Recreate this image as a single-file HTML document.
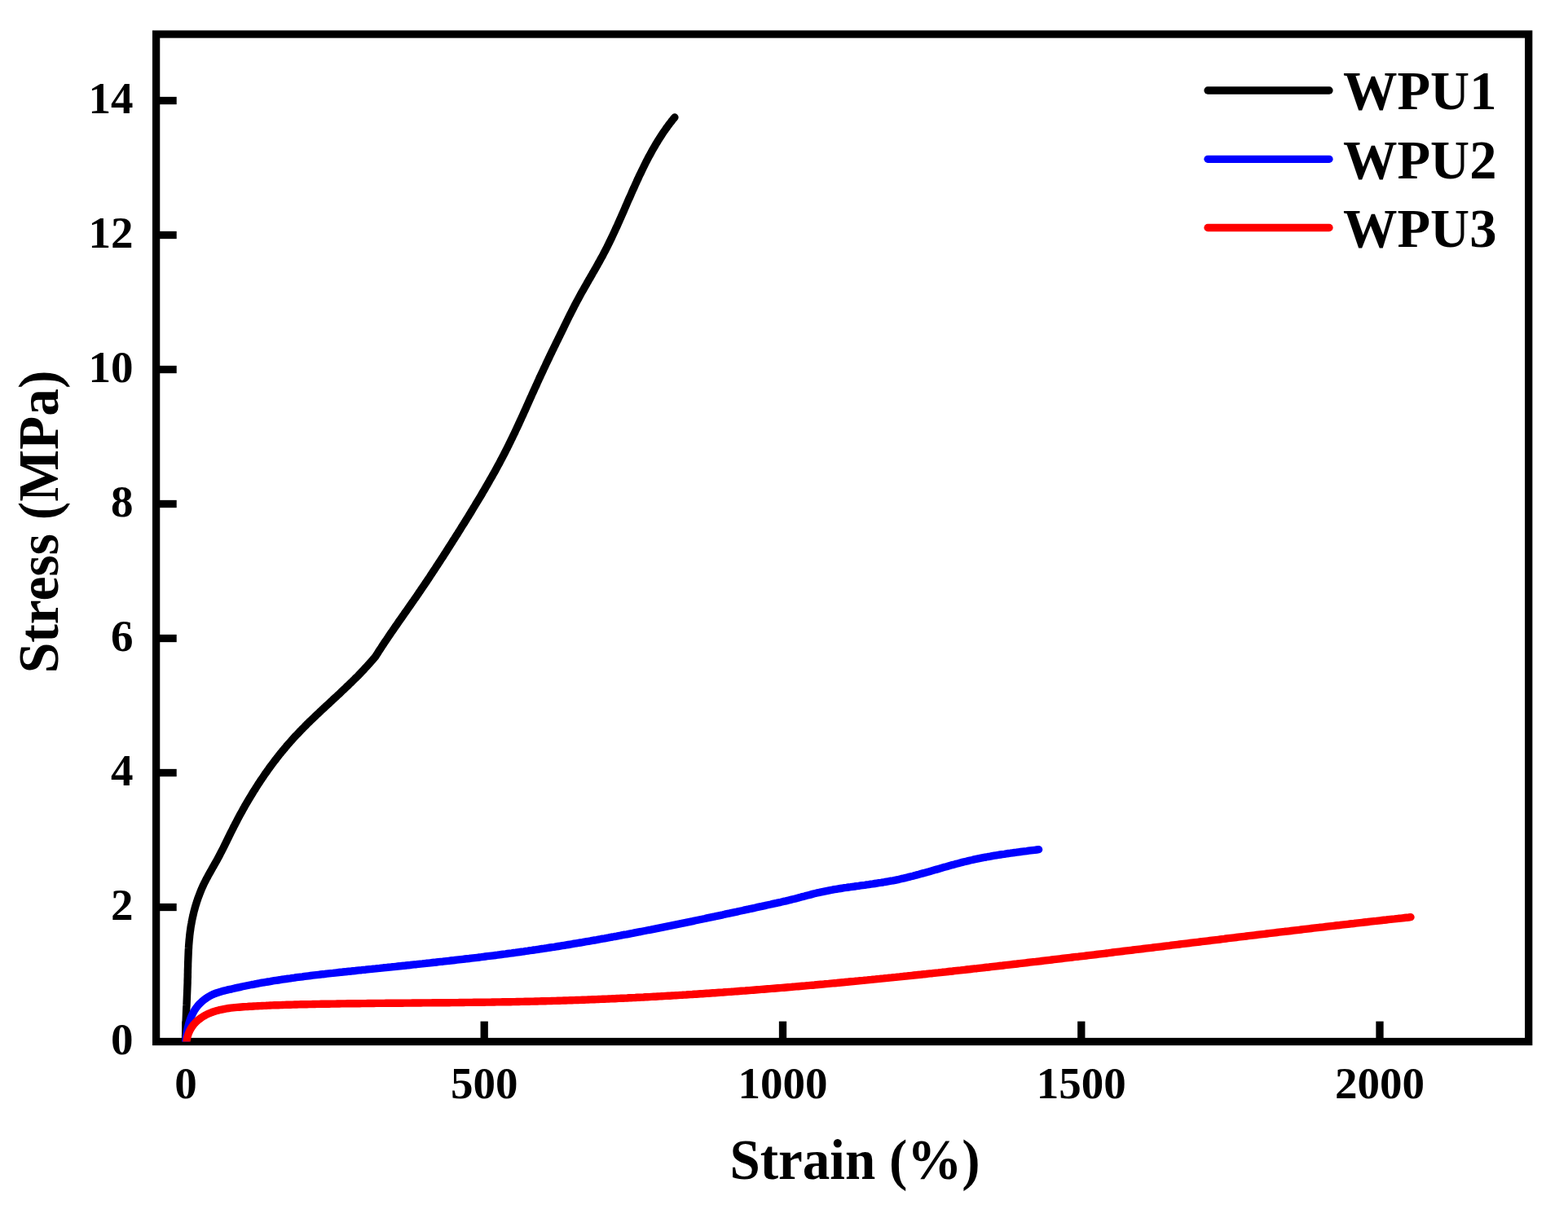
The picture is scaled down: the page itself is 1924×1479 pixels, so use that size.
<!DOCTYPE html>
<html><head><meta charset="utf-8"><style>
html,body{margin:0;padding:0;background:#fff;}
svg{display:block;}
text{font-family:"Liberation Serif","Times New Roman",serif;font-weight:bold;fill:#000;}
</style></head><body>
<svg width="1924" height="1479" viewBox="0 0 1924 1479">
<rect width="1924" height="1479" fill="#fff"/>
<defs><clipPath id="pa"><rect x="191.6" y="42.0" width="1684.1" height="1236.5"/></clipPath></defs>
<g stroke="#000" stroke-width="9.3" fill="none">
<rect x="191.6" y="42.0" width="1684.1" height="1236.5"/>
<line x1="228.0" y1="1278.5" x2="228.0" y2="1253.6"/><line x1="594.2" y1="1278.5" x2="594.2" y2="1253.6"/><line x1="960.5" y1="1278.5" x2="960.5" y2="1253.6"/><line x1="1326.8" y1="1278.5" x2="1326.8" y2="1253.6"/><line x1="1693.0" y1="1278.5" x2="1693.0" y2="1253.6"/><line x1="191.6" y1="1113.5" x2="216.7" y2="1113.5"/><line x1="191.6" y1="948.5" x2="216.7" y2="948.5"/><line x1="191.6" y1="783.5" x2="216.7" y2="783.5"/><line x1="191.6" y1="618.5" x2="216.7" y2="618.5"/><line x1="191.6" y1="453.5" x2="216.7" y2="453.5"/><line x1="191.6" y1="288.5" x2="216.7" y2="288.5"/><line x1="191.6" y1="123.5" x2="216.7" y2="123.5"/>
</g>
<g clip-path="url(#pa)" fill="none" stroke-width="9.4" stroke-linecap="round" stroke-linejoin="round">
<path stroke="#000000" d="M227.5 1279.0 L227.5 1276.5 L227.6 1274.0 L227.6 1271.4 L227.7 1268.9 L227.7 1266.4 L227.8 1263.9 L227.9 1261.4 L227.9 1258.9 L228.0 1256.4 L228.1 1253.9 L228.2 1251.4 L228.3 1248.9 L228.4 1246.4 L228.5 1243.8 L228.6 1241.3 L228.7 1238.8 L228.8 1236.3 L229.0 1233.8 L229.1 1231.3 L229.2 1228.8 L229.3 1226.3 L229.4 1223.8 L229.5 1221.3 L229.6 1218.8 L229.7 1216.3 L229.8 1213.8 L229.9 1211.3 L230.0 1208.8 L230.1 1206.3 L230.1 1203.8 L230.2 1201.2 L230.3 1198.7 L230.3 1196.2 L230.4 1193.7 L230.4 1191.2 L230.5 1188.6 L230.6 1186.1 L230.6 1183.6 L230.7 1181.1 L230.8 1178.6 L230.9 1176.1 L231.0 1173.5 L231.1 1171.0 L231.2 1168.5 L231.3 1166.0 L231.5 1163.5 L231.6 1161.0 L231.8 1158.5 L232.0 1156.0 L232.2 1153.5 L232.5 1151.0 L232.7 1148.5 L233.0 1146.0 L233.3 1143.5 L233.7 1141.0 L234.0 1138.5 L234.4 1136.0 L234.9 1133.6 L235.3 1131.1 L235.8 1128.6 L236.3 1126.2 L236.9 1123.7 L237.4 1121.3 L238.0 1118.8 L238.7 1116.4 L239.3 1114.0 L240.0 1111.6 L240.8 1109.2 L241.5 1106.8 L242.3 1104.4 L243.1 1102.0 L244.0 1099.7 L244.9 1097.3 L245.8 1095.0 L246.7 1092.7 L247.7 1090.4 L248.7 1088.1 L249.8 1085.8 L250.8 1083.6 L252.0 1081.3 L253.1 1079.1 L254.3 1076.9 L255.5 1074.6 L256.7 1072.4 L257.9 1070.3 L259.2 1068.1 L260.4 1065.9 L261.7 1063.7 L262.9 1061.5 L264.1 1059.4 L265.4 1057.2 L266.6 1055.0 L267.8 1052.8 L269.0 1050.5 L270.1 1048.3 L271.3 1046.1 L272.4 1043.9 L273.6 1041.6 L274.7 1039.4 L275.8 1037.1 L276.9 1034.9 L278.0 1032.6 L279.1 1030.4 L280.2 1028.1 L281.3 1025.9 L282.4 1023.6 L283.5 1021.4 L284.7 1019.1 L285.8 1016.9 L286.9 1014.6 L288.1 1012.4 L289.2 1010.2 L290.4 1008.0 L291.5 1005.7 L292.7 1003.5 L293.9 1001.3 L295.1 999.1 L296.3 996.9 L297.5 994.7 L298.7 992.5 L300.0 990.3 L301.2 988.1 L302.5 985.9 L303.7 983.8 L305.0 981.6 L306.3 979.5 L307.6 977.3 L308.9 975.2 L310.2 973.0 L311.5 970.9 L312.9 968.8 L314.2 966.6 L315.6 964.5 L316.9 962.4 L318.3 960.3 L319.7 958.2 L321.1 956.1 L322.5 954.1 L323.9 952.0 L325.3 949.9 L326.8 947.9 L328.2 945.8 L329.7 943.8 L331.1 941.8 L332.6 939.7 L334.1 937.7 L335.6 935.7 L337.1 933.7 L338.7 931.7 L340.2 929.7 L341.8 927.8 L343.3 925.8 L344.9 923.9 L346.5 921.9 L348.1 920.0 L349.7 918.1 L351.3 916.1 L352.9 914.2 L354.6 912.3 L356.2 910.5 L357.9 908.6 L359.6 906.7 L361.2 904.9 L362.9 903.0 L364.7 901.2 L366.4 899.4 L368.1 897.6 L369.9 895.8 L371.6 894.0 L373.4 892.2 L375.2 890.4 L376.9 888.6 L378.7 886.9 L380.5 885.1 L382.3 883.4 L384.2 881.6 L386.0 879.9 L387.8 878.1 L389.6 876.4 L391.5 874.7 L393.3 873.0 L395.1 871.2 L397.0 869.5 L398.8 867.8 L400.7 866.1 L402.5 864.4 L404.4 862.7 L406.2 860.9 L408.1 859.2 L409.9 857.5 L411.8 855.8 L413.6 854.1 L415.4 852.4 L417.3 850.7 L419.1 848.9 L420.9 847.2 L422.8 845.5 L424.6 843.7 L426.4 842.0 L428.2 840.3 L430.0 838.5 L431.8 836.8 L433.6 835.0 L435.4 833.2 L437.2 831.5 L439.0 829.7 L440.7 827.9 L442.5 826.1 L444.2 824.3 L445.9 822.5 L447.6 820.6 L449.3 818.8 L451.0 816.9 L452.7 815.1 L454.4 813.2 L456.0 811.3 L457.7 809.4 L459.3 807.5 L460.9 805.6 L462.2 803.5 L463.6 801.4 L464.9 799.2 L466.3 797.1 L467.7 795.0 L469.0 792.9 L470.4 790.8 L471.8 788.7 L473.2 786.6 L474.6 784.6 L476.0 782.5 L477.4 780.4 L478.8 778.3 L480.2 776.2 L481.7 774.2 L483.1 772.1 L484.5 770.0 L485.9 768.0 L487.4 765.9 L488.8 763.8 L490.2 761.8 L491.7 759.7 L493.1 757.7 L494.6 755.6 L496.0 753.5 L497.4 751.5 L498.9 749.4 L500.3 747.4 L501.8 745.3 L503.2 743.3 L504.6 741.2 L506.1 739.1 L507.5 737.1 L508.9 735.0 L510.4 732.9 L511.8 730.9 L513.2 728.8 L514.6 726.7 L516.0 724.7 L517.4 722.6 L518.9 720.5 L520.3 718.4 L521.7 716.3 L523.1 714.3 L524.5 712.2 L525.9 710.1 L527.3 708.0 L528.6 705.9 L530.0 703.8 L531.4 701.7 L532.8 699.6 L534.2 697.5 L535.5 695.4 L536.9 693.3 L538.3 691.2 L539.7 689.1 L541.0 687.0 L542.4 684.9 L543.8 682.8 L545.1 680.7 L546.5 678.6 L547.8 676.5 L549.2 674.3 L550.5 672.2 L551.9 670.1 L553.2 668.0 L554.6 665.9 L555.9 663.7 L557.3 661.6 L558.6 659.5 L559.9 657.4 L561.3 655.3 L562.6 653.1 L564.0 651.0 L565.3 648.9 L566.6 646.7 L567.9 644.6 L569.3 642.5 L570.6 640.3 L571.9 638.2 L573.2 636.1 L574.6 633.9 L575.9 631.8 L577.2 629.7 L578.5 627.5 L579.8 625.4 L581.1 623.2 L582.4 621.1 L583.7 618.9 L585.0 616.8 L586.3 614.6 L587.6 612.5 L588.9 610.3 L590.2 608.2 L591.5 606.0 L592.7 603.8 L594.0 601.7 L595.3 599.5 L596.5 597.3 L597.8 595.2 L599.0 593.0 L600.3 590.8 L601.5 588.6 L602.8 586.4 L604.0 584.3 L605.2 582.1 L606.5 579.9 L607.7 577.7 L608.9 575.5 L610.1 573.3 L611.3 571.1 L612.5 568.9 L613.7 566.6 L614.8 564.4 L616.0 562.2 L617.2 560.0 L618.3 557.8 L619.5 555.5 L620.6 553.3 L621.8 551.1 L622.9 548.8 L624.0 546.6 L625.1 544.3 L626.2 542.1 L627.3 539.8 L628.4 537.6 L629.5 535.3 L630.6 533.0 L631.7 530.8 L632.7 528.5 L633.8 526.2 L634.9 523.9 L635.9 521.7 L637.0 519.4 L638.0 517.1 L639.1 514.8 L640.1 512.5 L641.2 510.2 L642.2 508.0 L643.2 505.7 L644.3 503.4 L645.3 501.1 L646.3 498.8 L647.4 496.5 L648.4 494.2 L649.4 491.9 L650.4 489.6 L651.5 487.3 L652.5 485.0 L653.5 482.7 L654.6 480.4 L655.6 478.1 L656.6 475.9 L657.7 473.6 L658.7 471.3 L659.7 469.0 L660.8 466.7 L661.8 464.4 L662.9 462.1 L663.9 459.8 L665.0 457.6 L666.1 455.3 L667.1 453.0 L668.2 450.7 L669.3 448.5 L670.3 446.2 L671.4 443.9 L672.5 441.7 L673.6 439.4 L674.6 437.1 L675.7 434.9 L676.8 432.6 L677.9 430.3 L679.0 428.1 L680.1 425.8 L681.2 423.6 L682.3 421.3 L683.4 419.0 L684.5 416.8 L685.6 414.5 L686.7 412.3 L687.8 410.0 L688.9 407.8 L690.0 405.5 L691.1 403.3 L692.2 401.0 L693.3 398.7 L694.4 396.5 L695.5 394.2 L696.6 392.0 L697.7 389.7 L698.8 387.5 L700.0 385.3 L701.1 383.0 L702.2 380.8 L703.4 378.5 L704.5 376.3 L705.7 374.1 L706.8 371.9 L708.0 369.6 L709.2 367.4 L710.4 365.2 L711.6 363.0 L712.8 360.8 L714.0 358.6 L715.3 356.4 L716.5 354.2 L717.7 352.1 L719.0 349.9 L720.2 347.7 L721.5 345.5 L722.7 343.3 L724.0 341.2 L725.2 339.0 L726.5 336.8 L727.7 334.6 L729.0 332.5 L730.2 330.3 L731.5 328.1 L732.7 325.9 L733.9 323.7 L735.2 321.5 L736.4 319.3 L737.6 317.1 L738.8 314.9 L740.0 312.7 L741.1 310.5 L742.3 308.3 L743.4 306.1 L744.6 303.8 L745.7 301.6 L746.8 299.4 L747.9 297.1 L749.0 294.9 L750.1 292.6 L751.2 290.3 L752.2 288.1 L753.3 285.8 L754.4 283.5 L755.4 281.2 L756.4 279.0 L757.5 276.7 L758.5 274.4 L759.5 272.1 L760.5 269.8 L761.6 267.5 L762.6 265.2 L763.6 262.9 L764.6 260.6 L765.6 258.3 L766.6 256.0 L767.6 253.6 L768.6 251.3 L769.6 249.0 L770.6 246.7 L771.6 244.4 L772.7 242.1 L773.7 239.8 L774.7 237.5 L775.7 235.2 L776.7 232.9 L777.8 230.6 L778.8 228.3 L779.8 226.0 L780.9 223.7 L781.9 221.4 L783.0 219.1 L784.0 216.8 L785.1 214.5 L786.2 212.3 L787.3 210.0 L788.4 207.7 L789.5 205.5 L790.6 203.2 L791.7 201.0 L792.8 198.7 L794.0 196.5 L795.1 194.3 L796.3 192.1 L797.5 189.9 L798.7 187.7 L799.9 185.5 L801.1 183.3 L802.4 181.1 L803.7 179.0 L804.9 176.8 L806.2 174.7 L807.5 172.5 L808.9 170.4 L810.2 168.3 L811.6 166.2 L812.9 164.1 L814.3 162.0 L815.8 160.0 L817.2 157.9 L818.7 155.9 L820.1 153.9 L821.6 151.9 L823.2 149.9 L824.7 147.9 L826.3 145.9 L827.9 144.0"/>
<path stroke="#0000ff" d="M227.7 1279.0 L228.0 1276.6 L228.3 1274.2 L228.6 1271.7 L229.0 1269.2 L229.4 1266.7 L229.9 1264.2 L230.4 1261.7 L231.0 1259.3 L231.6 1256.8 L232.4 1254.3 L233.2 1251.9 L234.0 1249.5 L235.0 1247.2 L236.1 1244.9 L237.2 1242.7 L238.4 1240.5 L239.8 1238.4 L241.2 1236.4 L242.8 1234.4 L244.4 1232.5 L246.2 1230.8 L248.0 1229.1 L249.9 1227.5 L251.9 1226.0 L254.0 1224.6 L256.1 1223.3 L258.3 1222.0 L260.5 1220.9 L262.8 1219.9 L265.1 1219.0 L267.5 1218.2 L269.9 1217.5 L272.3 1216.8 L274.7 1216.1 L277.2 1215.5 L279.6 1214.9 L282.1 1214.3 L284.6 1213.8 L287.0 1213.2 L289.5 1212.6 L291.9 1212.1 L294.4 1211.6 L296.8 1211.0 L299.3 1210.5 L301.8 1210.0 L304.2 1209.5 L306.7 1209.0 L309.2 1208.5 L311.6 1208.1 L314.1 1207.6 L316.6 1207.1 L319.0 1206.7 L321.5 1206.2 L324.0 1205.8 L326.5 1205.4 L328.9 1205.0 L331.4 1204.6 L333.9 1204.1 L336.4 1203.7 L338.8 1203.3 L341.3 1203.0 L343.8 1202.6 L346.3 1202.2 L348.7 1201.8 L351.2 1201.5 L353.7 1201.1 L356.2 1200.8 L358.7 1200.4 L361.2 1200.1 L363.6 1199.7 L366.1 1199.4 L368.6 1199.1 L371.1 1198.8 L373.6 1198.4 L376.1 1198.1 L378.6 1197.8 L381.1 1197.5 L383.5 1197.2 L386.0 1196.9 L388.5 1196.6 L391.0 1196.3 L393.5 1196.0 L396.0 1195.7 L398.5 1195.5 L401.0 1195.2 L403.5 1194.9 L406.0 1194.6 L408.5 1194.4 L411.0 1194.1 L413.4 1193.8 L415.9 1193.5 L418.4 1193.3 L420.9 1193.0 L423.4 1192.8 L425.9 1192.5 L428.4 1192.2 L430.9 1192.0 L433.4 1191.7 L435.9 1191.5 L438.4 1191.2 L440.9 1190.9 L443.4 1190.7 L445.9 1190.4 L448.4 1190.2 L450.9 1189.9 L453.4 1189.6 L455.9 1189.4 L458.4 1189.1 L460.9 1188.9 L463.3 1188.6 L465.8 1188.4 L468.3 1188.1 L470.8 1187.8 L473.3 1187.6 L475.8 1187.3 L478.3 1187.1 L480.8 1186.8 L483.3 1186.6 L485.8 1186.3 L488.3 1186.0 L490.8 1185.8 L493.3 1185.5 L495.8 1185.3 L498.3 1185.0 L500.8 1184.7 L503.3 1184.5 L505.8 1184.2 L508.3 1183.9 L510.8 1183.7 L513.3 1183.4 L515.8 1183.1 L518.2 1182.9 L520.7 1182.6 L523.2 1182.3 L525.7 1182.1 L528.2 1181.8 L530.7 1181.5 L533.2 1181.3 L535.7 1181.0 L538.2 1180.7 L540.7 1180.4 L543.2 1180.2 L545.7 1179.9 L548.2 1179.6 L550.7 1179.3 L553.2 1179.0 L555.7 1178.8 L558.1 1178.5 L560.6 1178.2 L563.1 1177.9 L565.6 1177.6 L568.1 1177.3 L570.6 1177.0 L573.1 1176.7 L575.6 1176.5 L578.1 1176.2 L580.6 1175.9 L583.1 1175.6 L585.6 1175.3 L588.0 1175.0 L590.5 1174.7 L593.0 1174.3 L595.5 1174.0 L598.0 1173.7 L600.5 1173.4 L603.0 1173.1 L605.5 1172.8 L608.0 1172.5 L610.4 1172.2 L612.9 1171.8 L615.4 1171.5 L617.9 1171.2 L620.4 1170.9 L622.9 1170.5 L625.4 1170.2 L627.9 1169.9 L630.3 1169.5 L632.8 1169.2 L635.3 1168.8 L637.8 1168.5 L640.3 1168.1 L642.8 1167.8 L645.2 1167.4 L647.7 1167.1 L650.2 1166.7 L652.7 1166.4 L655.2 1166.0 L657.7 1165.7 L660.1 1165.3 L662.6 1164.9 L665.1 1164.5 L667.6 1164.2 L670.1 1163.8 L672.5 1163.4 L675.0 1163.0 L677.5 1162.6 L680.0 1162.3 L682.5 1161.9 L684.9 1161.5 L687.4 1161.1 L689.9 1160.7 L692.4 1160.3 L694.8 1159.9 L697.3 1159.5 L699.8 1159.1 L702.3 1158.7 L704.7 1158.2 L707.2 1157.8 L709.7 1157.4 L712.2 1157.0 L714.6 1156.6 L717.1 1156.1 L719.6 1155.7 L722.1 1155.3 L724.5 1154.9 L727.0 1154.4 L729.5 1154.0 L731.9 1153.6 L734.4 1153.1 L736.9 1152.7 L739.4 1152.2 L741.8 1151.8 L744.3 1151.3 L746.8 1150.9 L749.2 1150.4 L751.7 1150.0 L754.2 1149.5 L756.6 1149.1 L759.1 1148.6 L761.6 1148.2 L764.0 1147.7 L766.5 1147.2 L769.0 1146.8 L771.4 1146.3 L773.9 1145.8 L776.4 1145.4 L778.8 1144.9 L781.3 1144.4 L783.8 1143.9 L786.2 1143.5 L788.7 1143.0 L791.2 1142.5 L793.6 1142.0 L796.1 1141.5 L798.5 1141.1 L801.0 1140.6 L803.5 1140.1 L805.9 1139.6 L808.4 1139.1 L810.9 1138.6 L813.3 1138.1 L815.8 1137.6 L818.2 1137.1 L820.7 1136.6 L823.2 1136.1 L825.6 1135.6 L828.1 1135.1 L830.5 1134.6 L833.0 1134.1 L835.4 1133.6 L837.9 1133.1 L840.4 1132.6 L842.8 1132.1 L845.3 1131.6 L847.7 1131.1 L850.2 1130.6 L852.6 1130.0 L855.1 1129.5 L857.5 1129.0 L860.0 1128.5 L862.5 1128.0 L864.9 1127.5 L867.4 1126.9 L869.8 1126.4 L872.3 1125.9 L874.7 1125.4 L877.2 1124.9 L879.6 1124.3 L882.1 1123.8 L884.5 1123.3 L887.0 1122.8 L889.4 1122.2 L891.9 1121.7 L894.3 1121.2 L896.8 1120.6 L899.2 1120.1 L901.7 1119.6 L904.1 1119.1 L906.6 1118.5 L909.0 1118.0 L911.5 1117.5 L913.9 1116.9 L916.4 1116.4 L918.8 1115.9 L921.3 1115.3 L923.7 1114.8 L926.2 1114.3 L928.6 1113.7 L931.1 1113.2 L933.5 1112.7 L936.0 1112.1 L938.4 1111.6 L940.9 1111.0 L943.3 1110.5 L945.8 1110.0 L948.2 1109.4 L950.7 1108.9 L953.1 1108.4 L955.5 1107.8 L958.0 1107.3 L960.4 1106.7 L962.9 1106.2 L965.3 1105.6 L967.8 1105.0 L970.2 1104.4 L972.6 1103.8 L975.0 1103.2 L977.5 1102.6 L979.9 1101.9 L982.3 1101.3 L984.7 1100.6 L987.2 1100.0 L989.6 1099.3 L992.0 1098.7 L994.4 1098.1 L996.9 1097.4 L999.3 1096.8 L1001.7 1096.2 L1004.2 1095.7 L1006.6 1095.1 L1009.1 1094.6 L1011.5 1094.1 L1014.0 1093.6 L1016.4 1093.1 L1018.9 1092.6 L1021.4 1092.2 L1023.8 1091.7 L1026.3 1091.3 L1028.8 1090.9 L1031.3 1090.5 L1033.7 1090.1 L1036.2 1089.7 L1038.7 1089.4 L1041.2 1089.0 L1043.7 1088.7 L1046.2 1088.3 L1048.7 1088.0 L1051.1 1087.6 L1053.6 1087.3 L1056.1 1086.9 L1058.6 1086.6 L1061.1 1086.3 L1063.6 1085.9 L1066.1 1085.6 L1068.6 1085.2 L1071.1 1084.9 L1073.5 1084.5 L1076.0 1084.1 L1078.5 1083.7 L1081.0 1083.4 L1083.5 1083.0 L1085.9 1082.5 L1088.4 1082.1 L1090.9 1081.7 L1093.4 1081.2 L1095.8 1080.8 L1098.3 1080.3 L1100.7 1079.8 L1103.2 1079.3 L1105.6 1078.7 L1108.1 1078.2 L1110.5 1077.6 L1113.0 1077.0 L1115.4 1076.4 L1117.8 1075.8 L1120.2 1075.2 L1122.7 1074.5 L1125.1 1073.9 L1127.5 1073.3 L1129.9 1072.6 L1132.4 1071.9 L1134.8 1071.2 L1137.2 1070.6 L1139.6 1069.9 L1142.0 1069.2 L1144.4 1068.5 L1146.8 1067.8 L1149.3 1067.1 L1151.7 1066.4 L1154.1 1065.7 L1156.5 1065.0 L1158.9 1064.3 L1161.3 1063.7 L1163.7 1063.0 L1166.2 1062.3 L1168.6 1061.6 L1171.0 1061.0 L1173.4 1060.3 L1175.8 1059.7 L1178.3 1059.0 L1180.7 1058.4 L1183.1 1057.8 L1185.6 1057.2 L1188.0 1056.6 L1190.4 1056.0 L1192.9 1055.5 L1195.3 1054.9 L1197.8 1054.4 L1200.2 1053.9 L1202.7 1053.4 L1205.1 1052.9 L1207.6 1052.4 L1210.1 1052.0 L1212.5 1051.5 L1215.0 1051.1 L1217.5 1050.6 L1219.9 1050.2 L1222.4 1049.8 L1224.9 1049.4 L1227.4 1049.0 L1229.8 1048.6 L1232.3 1048.3 L1234.8 1047.9 L1237.3 1047.5 L1239.8 1047.2 L1242.3 1046.8 L1244.7 1046.5 L1247.2 1046.2 L1249.7 1045.8 L1252.2 1045.5 L1254.7 1045.2 L1257.2 1044.9 L1259.7 1044.6 L1262.2 1044.2 L1264.6 1043.9 L1267.1 1043.6 L1269.6 1043.3 L1272.1 1043.0 L1274.6 1042.7"/>
<path stroke="#ff0000" d="M228.9 1279.0 L229.3 1276.2 L229.8 1273.5 L230.5 1270.9 L231.3 1268.5 L232.3 1266.1 L233.4 1263.9 L234.6 1261.8 L236.0 1259.8 L237.4 1257.8 L239.0 1256.0 L240.6 1254.3 L242.4 1252.7 L244.2 1251.2 L246.1 1249.7 L248.1 1248.4 L250.2 1247.1 L252.3 1245.9 L254.5 1244.8 L256.7 1243.8 L259.0 1242.9 L261.3 1242.0 L263.6 1241.3 L266.0 1240.6 L268.4 1239.9 L270.8 1239.3 L273.3 1238.8 L275.7 1238.3 L278.2 1237.9 L280.7 1237.5 L283.2 1237.2 L285.8 1236.9 L288.3 1236.6 L290.9 1236.4 L293.4 1236.2 L296.0 1236.0 L298.5 1235.8 L301.1 1235.6 L303.6 1235.5 L306.2 1235.3 L308.7 1235.2 L311.3 1235.0 L313.8 1234.9 L316.4 1234.7 L318.9 1234.6 L321.4 1234.5 L324.0 1234.4 L326.5 1234.3 L329.0 1234.1 L331.5 1234.0 L334.0 1233.9 L336.6 1233.8 L339.1 1233.7 L341.6 1233.7 L344.1 1233.6 L346.6 1233.5 L349.1 1233.4 L351.6 1233.3 L354.1 1233.2 L356.6 1233.2 L359.1 1233.1 L361.6 1233.0 L364.1 1233.0 L366.6 1232.9 L369.1 1232.8 L371.5 1232.8 L374.0 1232.7 L376.5 1232.7 L379.0 1232.6 L381.5 1232.6 L384.0 1232.5 L386.5 1232.5 L389.0 1232.4 L391.5 1232.4 L394.0 1232.3 L396.4 1232.3 L398.9 1232.3 L401.4 1232.2 L403.9 1232.2 L406.4 1232.1 L408.9 1232.1 L411.4 1232.1 L413.9 1232.0 L416.4 1232.0 L418.9 1231.9 L421.4 1231.9 L423.9 1231.9 L426.4 1231.8 L428.8 1231.8 L431.3 1231.8 L433.8 1231.7 L436.3 1231.7 L438.8 1231.7 L441.3 1231.7 L443.8 1231.6 L446.3 1231.6 L448.8 1231.6 L451.3 1231.5 L453.8 1231.5 L456.3 1231.5 L458.8 1231.5 L461.3 1231.4 L463.8 1231.4 L466.3 1231.4 L468.8 1231.4 L471.3 1231.4 L473.8 1231.3 L476.3 1231.3 L478.8 1231.3 L481.3 1231.3 L483.8 1231.2 L486.3 1231.2 L488.8 1231.2 L491.3 1231.2 L493.8 1231.2 L496.3 1231.1 L498.8 1231.1 L501.3 1231.1 L503.8 1231.1 L506.3 1231.0 L508.8 1231.0 L511.4 1231.0 L513.9 1231.0 L516.4 1231.0 L518.9 1230.9 L521.4 1230.9 L523.9 1230.9 L526.4 1230.9 L528.9 1230.9 L531.4 1230.8 L533.9 1230.8 L536.4 1230.8 L538.9 1230.8 L541.4 1230.7 L543.9 1230.7 L546.4 1230.7 L548.9 1230.7 L551.4 1230.7 L553.9 1230.6 L556.5 1230.6 L559.0 1230.6 L561.5 1230.6 L564.0 1230.5 L566.5 1230.5 L569.0 1230.5 L571.5 1230.4 L574.0 1230.4 L576.5 1230.4 L579.0 1230.4 L581.5 1230.3 L584.0 1230.3 L586.5 1230.3 L589.0 1230.2 L591.6 1230.2 L594.1 1230.2 L596.6 1230.1 L599.1 1230.1 L601.6 1230.1 L604.1 1230.0 L606.6 1230.0 L609.1 1229.9 L611.6 1229.9 L614.1 1229.9 L616.6 1229.8 L619.1 1229.8 L621.6 1229.7 L624.2 1229.7 L626.7 1229.7 L629.2 1229.6 L631.7 1229.6 L634.2 1229.5 L636.7 1229.5 L639.2 1229.4 L641.7 1229.4 L644.2 1229.3 L646.7 1229.3 L649.2 1229.2 L651.7 1229.1 L654.2 1229.1 L656.8 1229.0 L659.3 1229.0 L661.8 1228.9 L664.3 1228.8 L666.8 1228.8 L669.3 1228.7 L671.8 1228.6 L674.3 1228.6 L676.8 1228.5 L679.3 1228.4 L681.8 1228.4 L684.3 1228.3 L686.8 1228.2 L689.3 1228.1 L691.8 1228.0 L694.3 1228.0 L696.9 1227.9 L699.4 1227.8 L701.9 1227.7 L704.4 1227.6 L706.9 1227.5 L709.4 1227.5 L711.9 1227.4 L714.4 1227.3 L716.9 1227.2 L719.4 1227.1 L721.9 1227.0 L724.4 1226.9 L726.9 1226.8 L729.4 1226.7 L731.9 1226.6 L734.4 1226.5 L736.9 1226.4 L739.4 1226.3 L741.9 1226.2 L744.4 1226.1 L746.9 1226.0 L749.4 1225.9 L751.9 1225.8 L754.5 1225.7 L757.0 1225.5 L759.5 1225.4 L762.0 1225.3 L764.5 1225.2 L767.0 1225.1 L769.5 1225.0 L772.0 1224.8 L774.5 1224.7 L777.0 1224.6 L779.5 1224.5 L782.0 1224.3 L784.5 1224.2 L787.0 1224.1 L789.5 1224.0 L792.0 1223.8 L794.5 1223.7 L797.0 1223.6 L799.5 1223.4 L802.0 1223.3 L804.5 1223.2 L807.0 1223.0 L809.5 1222.9 L812.0 1222.7 L814.5 1222.6 L817.0 1222.4 L819.5 1222.3 L822.0 1222.2 L824.5 1222.0 L827.0 1221.9 L829.5 1221.7 L832.0 1221.6 L834.5 1221.4 L837.0 1221.3 L839.5 1221.1 L842.0 1221.0 L844.5 1220.8 L847.0 1220.6 L849.5 1220.5 L852.0 1220.3 L854.5 1220.2 L857.0 1220.0 L859.5 1219.8 L862.0 1219.7 L864.5 1219.5 L867.0 1219.3 L869.5 1219.2 L872.0 1219.0 L874.5 1218.8 L877.0 1218.7 L879.5 1218.5 L882.0 1218.3 L884.5 1218.1 L887.0 1218.0 L889.5 1217.8 L892.0 1217.6 L894.5 1217.4 L897.0 1217.3 L899.5 1217.1 L902.0 1216.9 L904.5 1216.7 L907.0 1216.5 L909.5 1216.3 L912.0 1216.1 L914.5 1216.0 L916.9 1215.8 L919.4 1215.6 L921.9 1215.4 L924.4 1215.2 L926.9 1215.0 L929.4 1214.8 L931.9 1214.6 L934.4 1214.4 L936.9 1214.2 L939.4 1214.0 L941.9 1213.8 L944.4 1213.6 L946.9 1213.4 L949.4 1213.2 L951.9 1213.0 L954.4 1212.8 L956.9 1212.6 L959.4 1212.4 L961.9 1212.2 L964.4 1212.0 L966.9 1211.8 L969.4 1211.6 L971.9 1211.3 L974.4 1211.1 L976.9 1210.9 L979.3 1210.7 L981.8 1210.5 L984.3 1210.3 L986.8 1210.1 L989.3 1209.8 L991.8 1209.6 L994.3 1209.4 L996.8 1209.2 L999.3 1209.0 L1001.8 1208.7 L1004.3 1208.5 L1006.8 1208.3 L1009.3 1208.1 L1011.8 1207.8 L1014.3 1207.6 L1016.8 1207.4 L1019.3 1207.1 L1021.7 1206.9 L1024.2 1206.7 L1026.7 1206.5 L1029.2 1206.2 L1031.7 1206.0 L1034.2 1205.8 L1036.7 1205.5 L1039.2 1205.3 L1041.7 1205.0 L1044.2 1204.8 L1046.7 1204.6 L1049.2 1204.3 L1051.7 1204.1 L1054.2 1203.8 L1056.7 1203.6 L1059.1 1203.4 L1061.6 1203.1 L1064.1 1202.9 L1066.6 1202.6 L1069.1 1202.4 L1071.6 1202.1 L1074.1 1201.9 L1076.6 1201.6 L1079.1 1201.4 L1081.6 1201.1 L1084.1 1200.9 L1086.6 1200.6 L1089.0 1200.4 L1091.5 1200.1 L1094.0 1199.9 L1096.5 1199.6 L1099.0 1199.4 L1101.5 1199.1 L1104.0 1198.9 L1106.5 1198.6 L1109.0 1198.3 L1111.5 1198.1 L1114.0 1197.8 L1116.5 1197.6 L1118.9 1197.3 L1121.4 1197.0 L1123.9 1196.8 L1126.4 1196.5 L1128.9 1196.3 L1131.4 1196.0 L1133.9 1195.7 L1136.4 1195.5 L1138.9 1195.2 L1141.4 1194.9 L1143.9 1194.7 L1146.3 1194.4 L1148.8 1194.1 L1151.3 1193.9 L1153.8 1193.6 L1156.3 1193.3 L1158.8 1193.1 L1161.3 1192.8 L1163.8 1192.5 L1166.3 1192.2 L1168.8 1192.0 L1171.2 1191.7 L1173.7 1191.4 L1176.2 1191.1 L1178.7 1190.9 L1181.2 1190.6 L1183.7 1190.3 L1186.2 1190.0 L1188.7 1189.8 L1191.2 1189.5 L1193.7 1189.2 L1196.1 1188.9 L1198.6 1188.7 L1201.1 1188.4 L1203.6 1188.1 L1206.1 1187.8 L1208.6 1187.5 L1211.1 1187.2 L1213.6 1187.0 L1216.1 1186.7 L1218.5 1186.4 L1221.0 1186.1 L1223.5 1185.8 L1226.0 1185.5 L1228.5 1185.3 L1231.0 1185.0 L1233.5 1184.7 L1236.0 1184.4 L1238.5 1184.1 L1240.9 1183.8 L1243.4 1183.5 L1245.9 1183.3 L1248.4 1183.0 L1250.9 1182.7 L1253.4 1182.4 L1255.9 1182.1 L1258.4 1181.8 L1260.9 1181.5 L1263.3 1181.2 L1265.8 1180.9 L1268.3 1180.6 L1270.8 1180.4 L1273.3 1180.1 L1275.8 1179.8 L1278.3 1179.5 L1280.8 1179.2 L1283.3 1178.9 L1285.7 1178.6 L1288.2 1178.3 L1290.7 1178.0 L1293.2 1177.7 L1295.7 1177.4 L1298.2 1177.1 L1300.7 1176.8 L1303.2 1176.5 L1305.6 1176.2 L1308.1 1175.9 L1310.6 1175.6 L1313.1 1175.3 L1315.6 1175.0 L1318.1 1174.7 L1320.6 1174.4 L1323.1 1174.2 L1325.5 1173.9 L1328.0 1173.6 L1330.5 1173.3 L1333.0 1173.0 L1335.5 1172.7 L1338.0 1172.4 L1340.5 1172.1 L1343.0 1171.8 L1345.4 1171.5 L1347.9 1171.2 L1350.4 1170.9 L1352.9 1170.6 L1355.4 1170.3 L1357.9 1170.0 L1360.4 1169.7 L1362.9 1169.3 L1365.3 1169.0 L1367.8 1168.7 L1370.3 1168.4 L1372.8 1168.1 L1375.3 1167.8 L1377.8 1167.5 L1380.3 1167.2 L1382.8 1166.9 L1385.2 1166.6 L1387.7 1166.3 L1390.2 1166.0 L1392.7 1165.7 L1395.2 1165.4 L1397.7 1165.1 L1400.2 1164.8 L1402.7 1164.5 L1405.1 1164.2 L1407.6 1163.9 L1410.1 1163.6 L1412.6 1163.3 L1415.1 1163.0 L1417.6 1162.7 L1420.1 1162.4 L1422.6 1162.1 L1425.0 1161.8 L1427.5 1161.5 L1430.0 1161.2 L1432.5 1160.9 L1435.0 1160.6 L1437.5 1160.2 L1440.0 1159.9 L1442.5 1159.6 L1444.9 1159.3 L1447.4 1159.0 L1449.9 1158.7 L1452.4 1158.4 L1454.9 1158.1 L1457.4 1157.8 L1459.9 1157.5 L1462.3 1157.2 L1464.8 1156.9 L1467.3 1156.6 L1469.8 1156.3 L1472.3 1156.0 L1474.8 1155.7 L1477.3 1155.4 L1479.8 1155.1 L1482.2 1154.8 L1484.7 1154.5 L1487.2 1154.2 L1489.7 1153.9 L1492.2 1153.6 L1494.7 1153.3 L1497.2 1153.0 L1499.7 1152.7 L1502.1 1152.4 L1504.6 1152.0 L1507.1 1151.7 L1509.6 1151.4 L1512.1 1151.1 L1514.6 1150.8 L1517.1 1150.5 L1519.5 1150.2 L1522.0 1149.9 L1524.5 1149.6 L1527.0 1149.3 L1529.5 1149.0 L1532.0 1148.7 L1534.5 1148.4 L1537.0 1148.1 L1539.4 1147.8 L1541.9 1147.5 L1544.4 1147.2 L1546.9 1146.9 L1549.4 1146.6 L1551.9 1146.3 L1554.4 1146.0 L1556.9 1145.7 L1559.3 1145.4 L1561.8 1145.1 L1564.3 1144.8 L1566.8 1144.5 L1569.3 1144.2 L1571.8 1143.9 L1574.3 1143.6 L1576.7 1143.3 L1579.2 1143.1 L1581.7 1142.8 L1584.2 1142.5 L1586.7 1142.2 L1589.2 1141.9 L1591.7 1141.6 L1594.2 1141.3 L1596.6 1141.0 L1599.1 1140.7 L1601.6 1140.4 L1604.1 1140.1 L1606.6 1139.8 L1609.1 1139.5 L1611.6 1139.2 L1614.1 1138.9 L1616.5 1138.6 L1619.0 1138.3 L1621.5 1138.1 L1624.0 1137.8 L1626.5 1137.5 L1629.0 1137.2 L1631.5 1136.9 L1634.0 1136.6 L1636.4 1136.3 L1638.9 1136.0 L1641.4 1135.7 L1643.9 1135.5 L1646.4 1135.2 L1648.9 1134.9 L1651.4 1134.6 L1653.9 1134.3 L1656.3 1134.0 L1658.8 1133.7 L1661.3 1133.5 L1663.8 1133.2 L1666.3 1132.9 L1668.8 1132.6 L1671.3 1132.3 L1673.8 1132.0 L1676.3 1131.8 L1678.7 1131.5 L1681.2 1131.2 L1683.7 1130.9 L1686.2 1130.6 L1688.7 1130.4 L1691.2 1130.1 L1693.7 1129.8 L1696.2 1129.5 L1698.6 1129.2 L1701.1 1129.0 L1703.6 1128.7 L1706.1 1128.4 L1708.6 1128.1 L1711.1 1127.9 L1713.6 1127.6 L1716.1 1127.3 L1718.6 1127.1 L1721.0 1126.8 L1723.5 1126.5 L1726.0 1126.2 L1728.5 1126.0 L1731.0 1125.7"/>
</g>
<g font-size="55">
<text x="228.0" y="1348" text-anchor="middle">0</text><text x="594.2" y="1348" text-anchor="middle">500</text><text x="960.5" y="1348" text-anchor="middle">1000</text><text x="1326.8" y="1348" text-anchor="middle">1500</text><text x="1693.0" y="1348" text-anchor="middle">2000</text><text x="163.6" y="1293.7" text-anchor="end">0</text><text x="163.6" y="1128.7" text-anchor="end">2</text><text x="163.6" y="963.7" text-anchor="end">4</text><text x="163.6" y="798.7" text-anchor="end">6</text><text x="163.6" y="633.7" text-anchor="end">8</text><text x="163.6" y="468.7" text-anchor="end">10</text><text x="163.6" y="303.7" text-anchor="end">12</text><text x="163.6" y="138.7" text-anchor="end">14</text>
</g>
<text transform="translate(1049,1447) scale(1,1.04)" text-anchor="middle" font-size="67">Strain (%)</text>
<text transform="translate(70.6,640.4) rotate(-90) scale(1.007,1.045)" text-anchor="middle" font-size="67">Stress (MPa)</text>
<g stroke-width="9.3" stroke-linecap="round">
<line x1="1482" y1="111" x2="1631" y2="111" stroke="#000"/>
<line x1="1482" y1="195.3" x2="1631" y2="195.3" stroke="#0000ff"/>
<line x1="1482" y1="279.5" x2="1631" y2="279.5" stroke="#ff0000"/>
</g>
<g font-size="68">
<text transform="translate(1648,134.4) scale(0.978,1)">WPU1</text>
<text transform="translate(1648,218.6) scale(0.978,1)">WPU2</text>
<text transform="translate(1648,302.8) scale(0.978,1)">WPU3</text>
</g>
</svg>
</body></html>
